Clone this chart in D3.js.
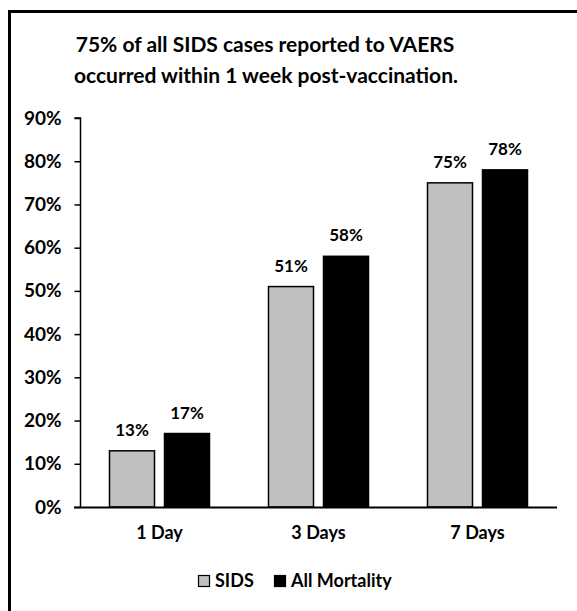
<!DOCTYPE html>
<html>
<head>
<meta charset="utf-8">
<script src="https://cdn.jsdelivr.net/npm/d3@7"></script>
<style>
  html, body { margin: 0; padding: 0; background: #fff; }
  svg { display: block; }
  text { font-family: Lato, "Open Sans", sans-serif; font-weight: 700; fill: #000; }
</style>
</head>
<body>
<svg id="chart" width="577" height="611"></svg>
<script>
const categories = ["1 Day", "3 Days", "7 Days"];
const seriesNames = ["SIDS", "All Mortality"];
const sidsValues = [13, 51, 75];
const mortalityValues = [17, 58, 78];
const yTicks = [0, 10, 20, 30, 40, 50, 60, 70, 80, 90];
const titleLines = ["75% of all SIDS cases reported to VAERS", "occurred within 1 week post-vaccination."];
const colors = ["#c0c0c0", "#000000"];

const svg = d3.select("#chart");
const W = 577, H = 611;
svg.append("rect").attr("width", W).attr("height", H).attr("fill", "#fff");

// frame
svg.append("path")
  .attr("d", `M9.5,${H} L9.5,11.5 L${W},11.5`)
  .attr("fill", "none").attr("stroke", "#000").attr("stroke-width", 3);

// title
svg.append("text").attr("x", 265).attr("y", 52).attr("text-anchor", "middle")
  .style("font-size", "21px").text(titleLines[0]);
svg.append("text").attr("x", 266).attr("y", 83).attr("text-anchor", "middle")
  .style("font-size", "21px").text(titleLines[1]);

const x0 = 80, x1 = 557, yTop = 118, yBot = 507;
const y = d3.scaleLinear().domain([0, 90]).range([yBot, yTop]);
const xBand = d3.scaleBand().domain(categories).range([x0, x1]).paddingInner(0).paddingOuter(0);
const groupW = 100, barW = 45;

const data = categories.map((c, i) => ({ cat: c, vals: [sidsValues[i], mortalityValues[i]] }));

// y axis
const yAxis = d3.axisLeft(y).tickValues(yTicks).tickFormat(d => d + "%").tickSize(6).tickPadding(13);
const gy = svg.append("g").attr("transform", `translate(${x0 + 0.5},0)`).call(yAxis);
gy.select(".domain").attr("stroke", "#000").attr("stroke-width", 1.5).attr("d", `M-6,${y(90)}H0V${y(0)}`);
gy.selectAll(".tick line").attr("stroke", "#000").attr("stroke-width", 1.5);
gy.selectAll(".tick text").style("font-size", "19px").style("font-family", "Lato, sans-serif").style("font-weight", 700).attr("fill", "#000");

// bars
const groups = svg.append("g").selectAll("g").data(data).join("g")
  .attr("transform", d => `translate(${xBand(d.cat) + (xBand.bandwidth() - groupW) / 2},0)`);

groups.selectAll("rect").data(d => d.vals.map((v, j) => ({ v, j }))).join("rect")
  .attr("x", d => d.j === 0 ? 0 : groupW - barW)
  .attr("width", barW)
  .attr("y", d => y(d.v))
  .attr("height", d => y(0) - y(d.v))
  .attr("fill", d => colors[d.j])
  .attr("stroke", "#000").attr("stroke-width", 1.5);

groups.selectAll("text.val").data(d => d.vals.map((v, j) => ({ v, j }))).join("text")
  .attr("class", "val")
  .attr("x", d => (d.j === 0 ? 0 : groupW - barW) + barW / 2)
  .attr("y", d => y(d.v) - 15)
  .attr("text-anchor", "middle")
  .style("font-size", "17px")
  .text(d => d.v + "%");

// x axis
const xAxis = d3.axisBottom(xBand).tickSize(0).tickPadding(19);
const gx = svg.append("g").attr("transform", `translate(0,${yBot + 0.5})`).call(xAxis);
gx.select(".domain").attr("stroke", "#000").attr("stroke-width", 1.8).attr("d", `M${x0 - 6},0H${x1}`);
gx.selectAll(".tick text").style("font-size", "18px").style("font-family", "Lato, sans-serif").style("font-weight", 700).attr("fill", "#000").attr("dy", "0.71em");

// legend
const legendItems = [{ name: seriesNames[0], x: 198, c: colors[0] }, { name: seriesNames[1], x: 274, c: colors[1] }];
const lg = svg.append("g");
legendItems.forEach(it => {
  lg.append("rect").attr("x", it.x + 0.5).attr("y", 575.5).attr("width", 11).attr("height", 11)
    .attr("fill", it.c).attr("stroke", "#000").attr("stroke-width", 1.2);
  lg.append("text").attr("x", it.x + 17).attr("y", 587).style("font-size", "18px").text(it.name);
});
</script>
</body>
</html>
